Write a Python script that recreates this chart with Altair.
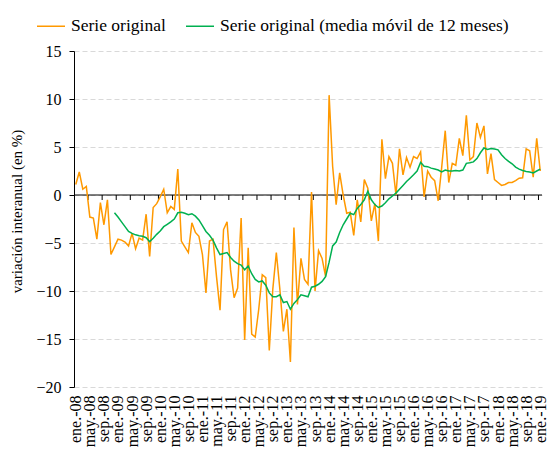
import altair as alt
import pandas as pd

tick_labels = [
    "ene.-08", "may.-08", "sep.-08", "ene.-09", "may.-09", "sep.-09",
    "ene.-10", "may.-10", "sep.-10", "ene.-11", "may.-11", "sep.-11",
    "ene.-12", "may.-12", "sep.-12", "ene.-13", "may.-13", "sep.-13",
    "ene.-14", "may.-14", "sep.-14", "ene.-15", "may.-15", "sep.-15",
    "ene.-16", "may.-16", "sep.-16", "ene.-17", "may.-17", "sep.-17",
    "ene.-18", "may.-18", "sep.-18", "ene.-19",
]

# monthly values, ene-08 .. ene-19
serie_original = [
    1.1, 2.4, 0.6, 0.9, -2.3, -2.4, -4.6, -0.8, -3.1, -0.5, -6.2, -5.4,
    -4.6, -4.7, -4.9, -5.3, -4.0, -5.6, -4.5, -4.7, -2.0, -6.4, -1.3, -0.9,
    -0.2, 0.6, -1.85, -1.2, -1.5, 2.7, -4.8, -5.4, -6.0, -2.9, -3.9, -4.3,
    -6.2, -10.2, -4.8, -4.6, -8.5, -12.0, -3.6, -2.8, -7.8, -10.7, -9.7, -2.4,
    -15.1, -5.5, -14.5, -14.8, -11.9, -8.3, -8.6, -16.2, -9.8, -6.0, -9.8, -14.2,
    -11.9, -17.4, -3.4, -11.4, -6.6, -8.8, -9.3, 0.3, -10.0, -5.8, -6.6, -8.5,
    10.4, 3.0, -1.0, 2.3, 0.0, -1.9, -1.8, -4.2, -0.5, -2.8, 1.6, 0.7,
    -2.7, -0.9, -4.8, 5.8, 1.7, 4.0, 3.3, 0.0, 4.8, 2.1, 3.9, 2.9,
    4.0, 3.8, 4.5, -0.2, 2.5, 1.85, 1.5, -0.6, 2.9, 6.7, 1.3, 3.3,
    3.1, 5.9, 4.1, 8.3, 3.65, 4.0, 7.5, 6.0, 7.2, 2.2, 4.3, 1.6,
    1.3, 1.0, 1.1, 1.3, 1.3, 1.5, 1.75, 1.8, 4.8, 4.6, 1.85, 5.9,
    2.5,
]

# 12-month moving average, dic-08 .. ene-19
media_movil_start = 11
media_movil = [
    -1.85,
    -2.3, -2.8, -3.3, -3.8, -4.0, -4.15, -4.25, -4.3, -4.45, -4.85, -4.5, -4.1,
    -3.75, -3.3, -3.05, -2.8, -2.5, -1.85, -1.8, -1.9, -2.05, -1.95, -2.2, -2.6,
    -3.2, -3.8, -4.2, -4.7, -5.5, -6.2, -6.1, -6.0, -6.5, -6.9, -7.15, -7.3,
    -7.8, -7.4, -8.2, -8.8, -9.05, -8.95, -9.4, -10.2, -10.6, -10.6, -10.4, -11.2,
    -11.1, -11.9, -11.3, -10.9, -10.4, -10.5, -10.6, -9.6, -9.5, -9.3, -9.0, -8.5,
    -7.0, -5.3, -4.9, -3.9, -3.1, -2.5, -1.9, -2.05, -1.4, -1.0, -0.5, 0.4,
    -0.5, -1.0, -1.3, -1.15, -0.8, -0.4, -0.1, 0.2, 0.6, 1.0, 1.4, 1.75,
    2.1, 2.5, 3.4, 3.0, 2.95, 2.8, 2.7, 2.6, 2.4, 2.6, 2.5, 2.5,
    2.55, 2.5, 2.6, 3.3, 3.35, 3.45, 3.8, 4.4, 4.9, 4.75, 4.85, 4.8,
    4.7, 4.2, 3.8, 3.5, 3.25, 2.9, 2.7, 2.55, 2.45, 2.4, 2.3, 2.5,
    2.7,
]

S1 = "Serie original"
S2 = "Serie original (media móvil de 12 meses)"
ORANGE = "#FF9900"
GREEN = "#00B050"
FONT = "Liberation Serif"

df1 = pd.DataFrame({"i": list(range(len(serie_original))), "v": serie_original, "serie": S1})
df2 = pd.DataFrame({"i": [media_movil_start + k for k in range(len(media_movil))],
                    "v": media_movil, "serie": S2})
n_months = len(serie_original)
tick_values = [4 * k for k in range(len(tick_labels))]
ticks_df = pd.DataFrame({"t": [v - 0.5 for v in tick_values[1:]]})

label_expr = "[" + ",".join("'" + s + "'" for s in tick_labels) + "][round(datum.value/4)]"

xscale = alt.Scale(domain=[-0.5, n_months - 0.5], nice=False, zero=False)
yscale = alt.Scale(domain=[-20, 15], nice=False)

x_axis = alt.Axis(values=tick_values, labelExpr=label_expr, labelAngle=270,
                  labelAlign="right", labelBaseline="middle", domain=False,
                  ticks=False, grid=False, labelFont=FONT, labelFontSize=16,
                  labelColor="black", labelPadding=8, labelOverlap=False,
                  labelFlush=False, labelBound=False, title=None)
y_axis = alt.Axis(values=[-20, -15, -10, -5, 0, 5, 10, 15], grid=True,
                  gridDash=[5, 3], gridColor="#d9d9d9", gridWidth=1,
                  domainColor="black", domainWidth=1, tickColor="black",
                  tickSize=5, labelFont=FONT, labelFontSize=16,
                  labelColor="black", labelPadding=8,
                  title="variación interanual  (en %)", titleFont=FONT,
                  titleFontSize=15, titleFontWeight="normal",
                  titleColor="black", titleX=-50, titleY=160)

x_enc = alt.X("i:Q", scale=xscale, axis=x_axis)
y_enc = alt.Y("v:Q", scale=yscale, axis=y_axis)
color_enc = alt.Color(
    "serie:N",
    scale=alt.Scale(domain=[S1, S2], range=[ORANGE, GREEN]),
    legend=alt.Legend(orient="none", legendX=-38, legendY=-40,
                      direction="horizontal", title=None, symbolType="stroke",
                      symbolSize=784, symbolStrokeWidth=1.5, labelFont=FONT,
                      labelFontSize=17.5, labelColor="black", columnPadding=17,
                      labelOffset=5, labelLimit=500, padding=0),
)

zero_rule = alt.Chart(pd.DataFrame({"z": [0]})).mark_rule(
    color="black", strokeWidth=1).encode(y=alt.Y("z:Q", scale=yscale, axis=y_axis))
tick_marks = alt.Chart(ticks_df).mark_rule(
    color="black", strokeWidth=1, y2Offset=5).encode(
    x=alt.X("t:Q", scale=xscale, axis=x_axis), y=alt.datum(0), y2=alt.datum(0))

line1 = alt.Chart(df1).mark_line(strokeWidth=1.5).encode(x=x_enc, y=y_enc, color=color_enc)
line2 = alt.Chart(df2).mark_line(strokeWidth=1.5).encode(x=x_enc, y=y_enc, color=color_enc)

chart = alt.layer(zero_rule, tick_marks, line1, line2).properties(
    width=468, height=336,
    autosize=alt.AutoSizeParams(type="none"),
    padding={"left": 66, "top": 43, "right": 6, "bottom": 62},
).configure(font=FONT).configure_axis(
    labelFont=FONT, titleFont=FONT
).configure_legend(labelFont=FONT).configure_view(strokeWidth=0)

chart.save("out.html", embed_options={"renderer": "svg", "actions": False})
